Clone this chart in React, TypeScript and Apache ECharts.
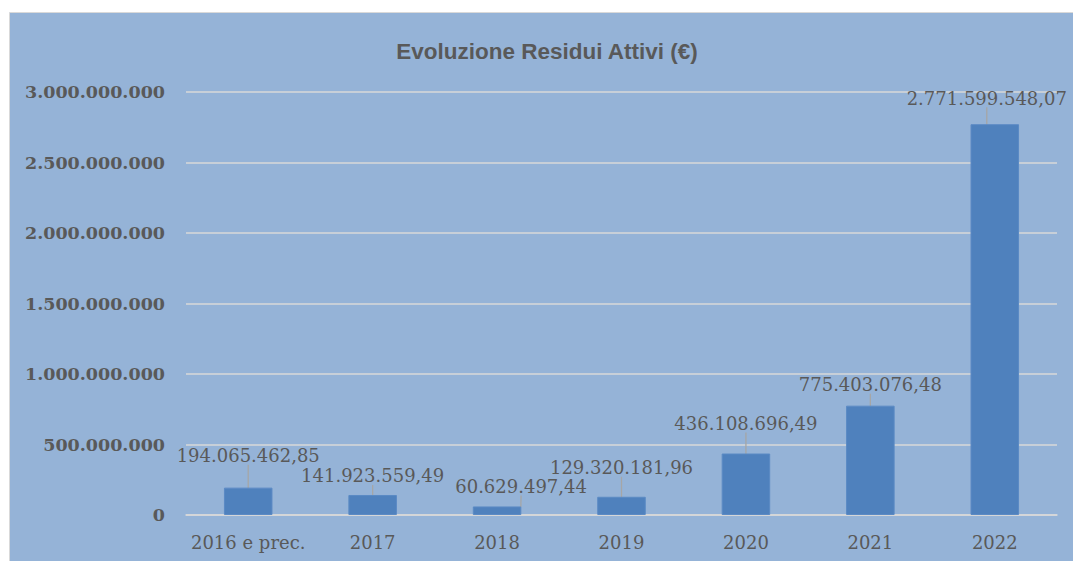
import React, { useEffect, useRef } from "react";
import * as echarts from "echarts";

const categories = ["2016 e prec.", "2017", "2018", "2019", "2020", "2021", "2022"];
const values = [194065462.85, 141923559.49, 60629497.44, 129320181.96, 436108696.49, 775403076.48, 2771599548.07];
const yTicks = [0, 500000000, 1000000000, 1500000000, 2000000000, 2500000000, 3000000000];

// label shifts (style only)
const labelDx = [0, 0, 24, 0, 0, 0, -8];
const labelDy = [-23, -10, -11, -20, -21, -12, -17];

function groupThousands(intStr: string): string {
  return intStr.replace(/\B(?=(\d{3})+(?!\d))/g, ".");
}
function fmtInt(v: number): string {
  return groupThousands(Math.round(v).toString());
}
function fmtDec(v: number): string {
  const s = v.toFixed(2);
  const [i, d] = s.split(".");
  return groupThousands(i) + "," + d;
}

export default function App() {
  const ref = useRef<HTMLDivElement>(null);
  useEffect(() => {
    if (!ref.current) return;
    const chart = echarts.init(ref.current, undefined, { renderer: "svg" });
    const serif = "'DejaVu Serif', serif";
    chart.setOption({
      animation: false,
      backgroundColor: "#ffffff",
      graphic: [
        {
          type: "rect",
          z: -10,
          silent: true,
          shape: { x: 9.5, y: 12.5, width: 1075, height: 560 },
          style: { fill: "#95B3D7", stroke: "#d9d9d9", lineWidth: 1 },
        },
      ],
      title: {
        text: "Evoluzione Residui Attivi (€)",
        left: 542,
        top: 35,
        textAlign: "center",
        textStyle: {
          fontFamily: "'Liberation Sans', Arial, sans-serif",
          fontWeight: "bold",
          fontSize: 22.5,
          color: "#595959",
        },
      },
      grid: { left: 186, right: 16, top: 92, bottom: 46, containLabel: false },
      xAxis: {
        type: "category",
        data: categories,
        axisLine: { show: true, lineStyle: { color: "#d9d9d9", width: 1.5 } },
        axisTick: { show: false },
        axisLabel: {
          interval: 0,
          fontFamily: serif,
          fontSize: 18,
          color: "#595959",
          margin: 18,
        },
      },
      yAxis: {
        type: "value",
        min: yTicks[0],
        max: yTicks[yTicks.length - 1],
        interval: yTicks[1] - yTicks[0],
        axisLine: { show: false },
        axisTick: { show: false },
        splitLine: { lineStyle: { color: "#d9d9d9", width: 1.5 } },
        axisLabel: {
          fontFamily: serif,
          fontWeight: "bold",
          fontSize: 17.5,
          color: "#595959",
          margin: 21,
          formatter: (v: number) => fmtInt(v),
        },
      },
      series: [
        {
          type: "bar",
          data: values,
          barWidth: "39%",
          itemStyle: { color: "#4F81BD", borderColor: "#5b8ac4", borderWidth: 1 },
          label: {
            show: true,
            position: "top",
            distance: 0,
            fontFamily: serif,
            fontSize: 18,
            color: "#595959",
            formatter: (p: any) => fmtDec(p.value),
          },
          labelLine: { show: true, lineStyle: { color: "#a6a6a6", width: 1.3 } },
          labelLayout: (p: any) => ({ dx: labelDx[p.dataIndex], dy: labelDy[p.dataIndex] }),
        },
      ],
    });
    return () => chart.dispose();
  }, []);
  return (
    <div
      ref={ref}
      style={{ position: "absolute", left: 0, top: 0, width: 1073, height: 561 }}
    />
  );
}
